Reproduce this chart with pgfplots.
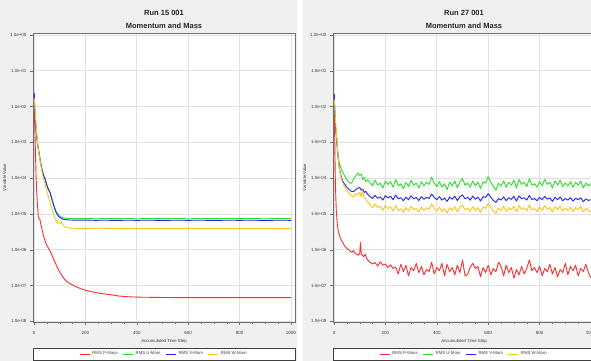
\documentclass[border=0pt]{standalone}
\usepackage{fontspec}
\setmainfont{Liberation Sans}
\usepackage{pgfplots}
\pgfplotsset{compat=1.18}
\definecolor{panelbg}{RGB}{240,240,240}
\definecolor{gridc}{RGB}{224,224,224}
\definecolor{axc}{RGB}{110,110,110}
\definecolor{txc}{RGB}{60,60,60}
\definecolor{cP}{RGB}{255,45,45}
\definecolor{cU}{RGB}{40,225,40}
\definecolor{cV}{RGB}{35,35,255}
\definecolor{cW}{RGB}{255,195,20}
\pgfplotsset{legend image code/.code={\draw[#1, line width=1pt] (0pt,0pt) -- (10pt,0pt);}}
\begin{document}
\begin{tikzpicture}[x=1pt,y=1pt]
\path[use as bounding box] (0,0) rectangle (591,361);
\fill[panelbg] (0,0) rectangle (297,361);
\fill[panelbg] (303,0) rectangle (591,361);
\draw[black!75, line width=0.6pt, fill=white] (33,1) rectangle (295,13);
\draw[black!75, line width=0.6pt, fill=white] (333,1) rectangle (600,13);
\begin{axis}[
  at={(33pt,39pt)}, anchor=south west, title={Run 15 001\\Momentum and Mass},
  scale only axis, width=262pt, height=289.3pt,
  ymode=log, xmin=-3.9, xmax=1015.6, ymin=0.96e-8, ymax=1.16,
  axis background/.style={fill=white},
  ytick={1,1e-1,1e-2,1e-3,1e-4,1e-5,1e-6,1e-7,1e-8},
  yticklabels={1.0e+00,1.0e-01,1.0e-02,1.0e-03,1.0e-04,1.0e-05,1.0e-06,1.0e-07,1.0e-08},
  xtick={0,200,400,600,800,1000}, minor x tick num=3,
  xtick pos=bottom, ytick pos=left,
  grid=major, major grid style={gridc, line width=0.9pt},
  tick align=outside, major tick length=3pt, minor tick length=1.6pt,
  tick style={axc, line width=0.4pt},
  axis line style={axc, line width=0.4pt},
  ticklabel style={font=\fontsize{4.5}{5}\selectfont, text=txc},
  xticklabel style={yshift=-2.5pt},
  xlabel={Accumulated Time Step}, ylabel={Variable Value},
  label style={font=\fontsize{4.3}{5}\selectfont, text=txc},
  xlabel style={yshift=2pt},
  ylabel style={yshift=-3pt},
  title style={font=\fontsize{7.5}{12.5}\selectfont\bfseries, align=center, yshift=-5pt, text=black!85},
  every axis plot/.append style={line width=0.9pt, no marks, line join=round},
  legend columns=4,
  legend style={at={(0.5,0)}, anchor=center, yshift=-32pt, draw=none, fill=none, inner sep=0pt,
    font=\fontsize{4.3}{5}\selectfont, text=txc,
    /tikz/every even column/.append style={column sep=3pt}},
  /pgf/number format/1000 sep={},
  /pgf/number format/assume math mode=true,
]
\addplot[cP] coordinates {(1,8e-3)(2,5e-3)(4,1.5e-3)(6,4e-4)(8,1.2e-4)(10,5e-5)(13,2e-5)(17,8e-6)(20,7.5e-6)(23,7e-6)(27,5e-6)(32,3.5e-6)(38,2.3e-6)(45,1.6e-6)(52,1.25e-6)(60,1e-6)(70,7e-7)(80,4.8e-7)(90,3.3e-7)(100,2.4e-7)(113,1.7e-7)(127,1.3e-7)(145,1.08e-7)(165,9.2e-8)(185,8e-8)(205,7.2e-8)(230,6.6e-8)(260,6e-8)(296,5.6e-8)(330,5.1e-8)(360,4.9e-8)(400,4.75e-8)(450,4.7e-8)(500,4.65e-8)(600,4.6e-8)(700,4.6e-8)(800,4.6e-8)(900,4.6e-8)(1000,4.6e-8)};
\addlegendentry{RMS P-Mass}
\addplot[cU] coordinates {(1,1.8e-2)(3,8e-3)(6,3.5e-3)(10,1.6e-3)(15,8e-4)(19,5.5e-4)(25,3e-4)(32,1.7e-4)(38,1.2e-4)(43,1e-4)(50,6.5e-5)(56,5e-5)(62,4.2e-5)(70,2.6e-5)(78,1.7e-5)(86,1.2e-5)(95,9.4e-6)(105,8.3e-6)(115,7.8e-6)(127,7.6e-6)(140,7.5e-6)(170,7.4e-6)(200,7.5e-6)(240,7.35e-6)(280,7.45e-6)(320,7.4e-6)(360,7.5e-6)(400,7.35e-6)(450,7.45e-6)(500,7.4e-6)(550,7.5e-6)(600,7.35e-6)(650,7.45e-6)(700,7.4e-6)(750,7.5e-6)(800,7.4e-6)(850,7.45e-6)(900,7.35e-6)(950,7.45e-6)(1000,7.4e-6)};
\addlegendentry{RMS U-Mom}
\addplot[cV] coordinates {(1,2.4e-2)(3,9e-3)(6,3.6e-3)(10,1.6e-3)(15,8e-4)(19,5.3e-4)(25,2.9e-4)(32,1.6e-4)(38,1.15e-4)(43,9.5e-5)(50,6.2e-5)(56,4.8e-5)(62,4e-5)(70,2.5e-5)(78,1.6e-5)(86,1.1e-5)(95,8.6e-6)(105,7.6e-6)(115,7.1e-6)(127,6.9e-6)(140,6.8e-6)(170,6.7e-6)(200,6.75e-6)(240,6.65e-6)(280,6.7e-6)(320,6.6e-6)(360,6.7e-6)(400,6.65e-6)(450,6.7e-6)(500,6.6e-6)(550,6.7e-6)(600,6.65e-6)(650,6.7e-6)(700,6.6e-6)(750,6.7e-6)(800,6.65e-6)(850,6.7e-6)(900,6.6e-6)(950,6.7e-6)(1000,6.65e-6)};
\addlegendentry{RMS V-Mom}
\addplot[cW] coordinates {(1,1.7e-2)(3,1e-2)(6,5e-3)(10,2e-3)(15,8e-4)(20,4.5e-4)(26,2.5e-4)(32,1.4e-4)(38,9e-5)(45,6e-5)(52,3.8e-5)(60,2.4e-5)(68,1.5e-5)(76,1e-5)(84,7e-6)(92,5.8e-6)(100,5.5e-6)(106,6e-6)(112,5e-6)(120,4.4e-6)(130,4.1e-6)(150,4e-6)(200,3.95e-6)(250,4e-6)(300,3.95e-6)(350,3.9e-6)(400,3.95e-6)(450,3.9e-6)(500,3.95e-6)(550,3.9e-6)(600,3.95e-6)(650,3.9e-6)(700,3.95e-6)(750,3.9e-6)(800,3.95e-6)(850,3.9e-6)(900,3.95e-6)(950,3.9e-6)(1000,3.92e-6)};
\addlegendentry{RMS W-Mom}
\end{axis}
\begin{axis}[
  at={(333pt,39pt)}, anchor=south west, title={Run 27 001\\Momentum and Mass},
  scale only axis, width=262pt, height=289.3pt,
  ymode=log, xmin=-3.9, xmax=1015.6, ymin=0.96e-8, ymax=1.16,
  axis background/.style={fill=white},
  ytick={1,1e-1,1e-2,1e-3,1e-4,1e-5,1e-6,1e-7,1e-8},
  yticklabels={1.0e+00,1.0e-01,1.0e-02,1.0e-03,1.0e-04,1.0e-05,1.0e-06,1.0e-07,1.0e-08},
  xtick={0,200,400,600,800,1000}, minor x tick num=3,
  xtick pos=bottom, ytick pos=left,
  grid=major, major grid style={gridc, line width=0.9pt},
  tick align=outside, major tick length=3pt, minor tick length=1.6pt,
  tick style={axc, line width=0.4pt},
  axis line style={axc, line width=0.4pt},
  ticklabel style={font=\fontsize{4.5}{5}\selectfont, text=txc},
  xticklabel style={yshift=-2.5pt},
  xlabel={Accumulated Time Step}, ylabel={Variable Value},
  label style={font=\fontsize{4.3}{5}\selectfont, text=txc},
  xlabel style={yshift=2pt},
  ylabel style={yshift=-3pt},
  title style={font=\fontsize{7.5}{12.5}\selectfont\bfseries, align=center, yshift=-5pt, text=black!85},
  every axis plot/.append style={line width=0.9pt, no marks, line join=round},
  legend columns=4,
  legend style={at={(0.5,0)}, anchor=center, yshift=-32pt, draw=none, fill=none, inner sep=0pt,
    font=\fontsize{4.3}{5}\selectfont, text=txc,
    /tikz/every even column/.append style={column sep=3pt}},
  /pgf/number format/1000 sep={},
  /pgf/number format/assume math mode=true,
]
\addplot[cP] coordinates {(1,7e-3)(2,3e-3)(3,1e-3)(4,3e-4)(5,1e-4)(7,3e-5)(9,1.2e-5)(12,6e-6)(16,3.5e-6)(20,2.7e-6)(25,2.1e-6)(30,1.8e-6)(36,1.5e-6)(42,1.25e-6)(50,1.1e-6)(57,1e-6)(64,9e-7)(70,8.5e-7)(76,9.5e-7)(82,8e-7)(88,7.5e-7)(94,7e-7)(100,8e-7)(103,1.6e-6)(106,8e-7)(110,7e-7)(116,6.5e-7)(122,7.5e-7)(128,5.5e-7)(134,5e-7)(140,4.5e-7)(150,4.0e-7)(160,4.4e-7)(170,3.5e-7)(180,4.6e-7)(190,3.7e-7)(200,4.0e-7)(210,3.2e-7)(220,3.8e-7)(230,3.0e-7)(240,3.3e-7)(250,2.1e-7)(260,3.95e-7)(270,2.45e-7)(280,3.7e-7)(290,1.85e-7)(300,3.2e-7)(310,2.6e-7)(320,4.2e-7)(330,2.3e-7)(340,3.45e-7)(350,2.0e-7)(360,2.8e-7)(370,2.45e-7)(380,4.5e-7)(390,2.1e-7)(400,3.2e-7)(410,2.6e-7)(420,4.2e-7)(430,1.85e-7)(440,3.95e-7)(450,2.45e-7)(460,3.2e-7)(470,2.0e-7)(480,3.7e-7)(490,2.3e-7)(500,5.2e-7)(510,1.85e-7)(520,2.1e-7)(530,3.2e-7)(540,4.2e-7)(550,3.0e-7)(560,3.45e-7)(570,1.75e-7)(580,3.2e-7)(590,2.3e-7)(600,3.7e-7)(610,2.0e-7)(620,3.0e-7)(630,2.45e-7)(640,4.5e-7)(650,3.45e-7)(660,1.85e-7)(670,3.7e-7)(680,2.3e-7)(690,3.2e-7)(700,1.6e-7)(710,2.8e-7)(720,2.0e-7)(730,3.45e-7)(740,2.1e-7)(750,3.0e-7)(760,5.2e-7)(770,2.6e-7)(780,3.2e-7)(790,2.3e-7)(800,3.45e-7)(810,1.85e-7)(820,3.0e-7)(830,2.45e-7)(840,3.95e-7)(850,2.1e-7)(860,3.2e-7)(870,1.75e-7)(880,2.8e-7)(890,2.3e-7)(900,4.2e-7)(910,2.0e-7)(920,3.45e-7)(930,2.6e-7)(940,3.7e-7)(950,1.85e-7)(960,3.0e-7)(970,2.45e-7)(980,3.95e-7)(990,2.3e-7)(1000,1.6e-7)};
\addlegendentry{RMS P-Mass}
\addplot[cU] coordinates {(1,1.5e-2)(3,6e-3)(6,2.5e-3)(10,1.2e-3)(14,6e-4)(18,3.5e-4)(22,2.4e-4)(27,1.9e-4)(32,1.6e-4)(38,1.3e-4)(44,1.05e-4)(50,9e-5)(56,8e-5)(62,7.5e-5)(68,7.2e-5)(75,9e-5)(82,1.1e-4)(88,1.25e-4)(94,1.4e-4)(100,1.2e-4)(106,1.3e-4)(112,9e-5)(118,1.05e-4)(124,8e-5)(130,9e-5)(140,7.7e-5)(150,6.1e-5)(160,8.8e-5)(170,6.4e-5)(180,7.3e-5)(190,5.3e-5)(200,8.4e-5)(210,6.7e-5)(220,8.0e-5)(230,5.6e-5)(240,9.2e-5)(250,6.1e-5)(260,7.0e-5)(270,5.1e-5)(280,7.7e-5)(290,5.8e-5)(300,8.8e-5)(310,6.4e-5)(320,7.3e-5)(330,5.3e-5)(340,8.0e-5)(350,6.1e-5)(360,7.7e-5)(370,6.7e-5)(380,1.06e-4)(390,7.3e-5)(400,5.8e-5)(410,8.0e-5)(420,5.6e-5)(430,7.0e-5)(440,4.8e-5)(450,7.7e-5)(460,6.1e-5)(470,8.4e-5)(480,5.3e-5)(490,8.0e-5)(500,9.7e-5)(510,6.4e-5)(520,7.3e-5)(530,5.6e-5)(540,8.4e-5)(550,6.1e-5)(560,7.7e-5)(570,5.1e-5)(580,8.0e-5)(590,7.3e-5)(600,1.1e-4)(610,7.7e-5)(620,5.8e-5)(630,4.6e-5)(640,7.3e-5)(650,6.1e-5)(660,8.4e-5)(670,5.6e-5)(680,7.7e-5)(690,6.4e-5)(700,8.8e-5)(710,5.3e-5)(720,9.2e-5)(730,6.7e-5)(740,7.7e-5)(750,5.8e-5)(760,9.7e-5)(770,6.4e-5)(780,7.0e-5)(790,5.6e-5)(800,8.0e-5)(810,6.1e-5)(820,9.2e-5)(830,6.7e-5)(840,7.7e-5)(850,5.3e-5)(860,8.4e-5)(870,6.4e-5)(880,8.8e-5)(890,5.8e-5)(900,7.3e-5)(910,6.1e-5)(920,8.0e-5)(930,5.6e-5)(940,7.7e-5)(950,6.4e-5)(960,8.4e-5)(970,5.3e-5)(980,7.3e-5)(990,6.1e-5)(1000,7.0e-5)};
\addlegendentry{RMS U-Mom}
\addplot[cV] coordinates {(1,2.3e-2)(3,8e-3)(6,3e-3)(10,1.3e-3)(14,5.5e-4)(18,2.8e-4)(22,1.7e-4)(27,1.2e-4)(32,9e-5)(38,7.4e-5)(44,6.4e-5)(50,5.6e-5)(56,5e-5)(62,4.6e-5)(68,4.3e-5)(76,4.2e-5)(84,4.8e-5)(92,5.2e-5)(100,5.5e-5)(106,4.6e-5)(112,5e-5)(118,4e-5)(124,4.3e-5)(130,3.6e-5)(140,3.1e-5)(150,2.7e-5)(160,3.3e-5)(170,2.75e-5)(180,3.0e-5)(190,2.45e-5)(200,3.25e-5)(210,2.8e-5)(220,3.15e-5)(230,2.5e-5)(240,3.4e-5)(250,2.65e-5)(260,2.85e-5)(270,2.35e-5)(280,2.95e-5)(290,2.5e-5)(300,3.2e-5)(310,2.65e-5)(320,2.9e-5)(330,2.37e-5)(340,3.05e-5)(350,2.58e-5)(360,2.95e-5)(370,2.72e-5)(380,3.6e-5)(390,2.9e-5)(400,2.5e-5)(410,3.05e-5)(420,2.44e-5)(430,2.8e-5)(440,2.25e-5)(450,2.95e-5)(460,2.58e-5)(470,3.15e-5)(480,2.37e-5)(490,3.05e-5)(500,3.4e-5)(510,2.65e-5)(520,2.9e-5)(530,2.44e-5)(540,3.15e-5)(550,2.58e-5)(560,2.95e-5)(570,2.3e-5)(580,3.05e-5)(590,2.9e-5)(600,3.7e-5)(610,2.95e-5)(620,2.4e-5)(630,2.1e-5)(640,2.7e-5)(650,2.45e-5)(660,3.0e-5)(670,2.35e-5)(680,2.85e-5)(690,2.55e-5)(700,3.1e-5)(710,2.3e-5)(720,3.2e-5)(730,2.65e-5)(740,2.85e-5)(750,2.45e-5)(760,3.3e-5)(770,2.55e-5)(780,2.7e-5)(790,2.35e-5)(800,2.9e-5)(810,2.5e-5)(820,3.1e-5)(830,2.6e-5)(840,2.8e-5)(850,2.25e-5)(860,2.95e-5)(870,2.5e-5)(880,3.0e-5)(890,2.35e-5)(900,2.7e-5)(910,2.45e-5)(920,2.85e-5)(930,2.3e-5)(940,2.75e-5)(950,2.5e-5)(960,2.85e-5)(970,2.2e-5)(980,2.65e-5)(990,2.4e-5)(1000,2.5e-5)};
\addlegendentry{RMS V-Mom}
\addplot[cW] coordinates {(1,1.6e-2)(3,1e-2)(6,4e-3)(10,1.5e-3)(14,6e-4)(18,2.8e-4)(22,1.6e-4)(27,1.1e-4)(32,8e-5)(38,6.3e-5)(44,5.2e-5)(50,4.5e-5)(56,4e-5)(62,3.5e-5)(68,3.2e-5)(76,3e-5)(84,3.6e-5)(92,3.4e-5)(100,4e-5)(106,3e-5)(110,4.7e-5)(116,3e-5)(122,2.7e-5)(130,2.2e-5)(140,1.8e-5)(150,1.5e-5)(160,1.9e-5)(170,1.5e-5)(180,1.65e-5)(190,1.25e-5)(200,1.75e-5)(210,1.4e-5)(220,1.6e-5)(230,1.2e-5)(240,1.72e-5)(250,1.26e-5)(260,1.4e-5)(270,1.1e-5)(280,1.5e-5)(290,1.22e-5)(300,1.67e-5)(310,1.31e-5)(320,1.45e-5)(330,1.14e-5)(340,1.55e-5)(350,1.26e-5)(360,1.5e-5)(370,1.35e-5)(380,1.9e-5)(390,1.45e-5)(400,1.22e-5)(410,1.55e-5)(420,1.18e-5)(430,1.4e-5)(440,1.06e-5)(450,1.5e-5)(460,1.26e-5)(470,1.61e-5)(480,1.14e-5)(490,1.55e-5)(500,1.78e-5)(510,1.31e-5)(520,1.45e-5)(530,1.18e-5)(540,1.61e-5)(550,1.26e-5)(560,1.5e-5)(570,1.1e-5)(580,1.55e-5)(590,1.45e-5)(600,1.98e-5)(610,1.5e-5)(620,1.22e-5)(630,1.03e-5)(640,1.45e-5)(650,1.26e-5)(660,1.61e-5)(670,1.18e-5)(680,1.5e-5)(690,1.31e-5)(700,1.67e-5)(710,1.14e-5)(720,1.72e-5)(730,1.35e-5)(740,1.5e-5)(750,1.22e-5)(760,1.78e-5)(770,1.31e-5)(780,1.4e-5)(790,1.18e-5)(800,1.55e-5)(810,1.26e-5)(820,1.72e-5)(830,1.35e-5)(840,1.5e-5)(850,1.14e-5)(860,1.61e-5)(870,1.31e-5)(880,1.67e-5)(890,1.22e-5)(900,1.45e-5)(910,1.26e-5)(920,1.55e-5)(930,1.18e-5)(940,1.5e-5)(950,1.31e-5)(960,1.61e-5)(970,1.14e-5)(980,1.45e-5)(990,1.26e-5)(1000,1.15e-5)};
\addlegendentry{RMS W-Mom}
\end{axis}
\end{tikzpicture}
\end{document}
